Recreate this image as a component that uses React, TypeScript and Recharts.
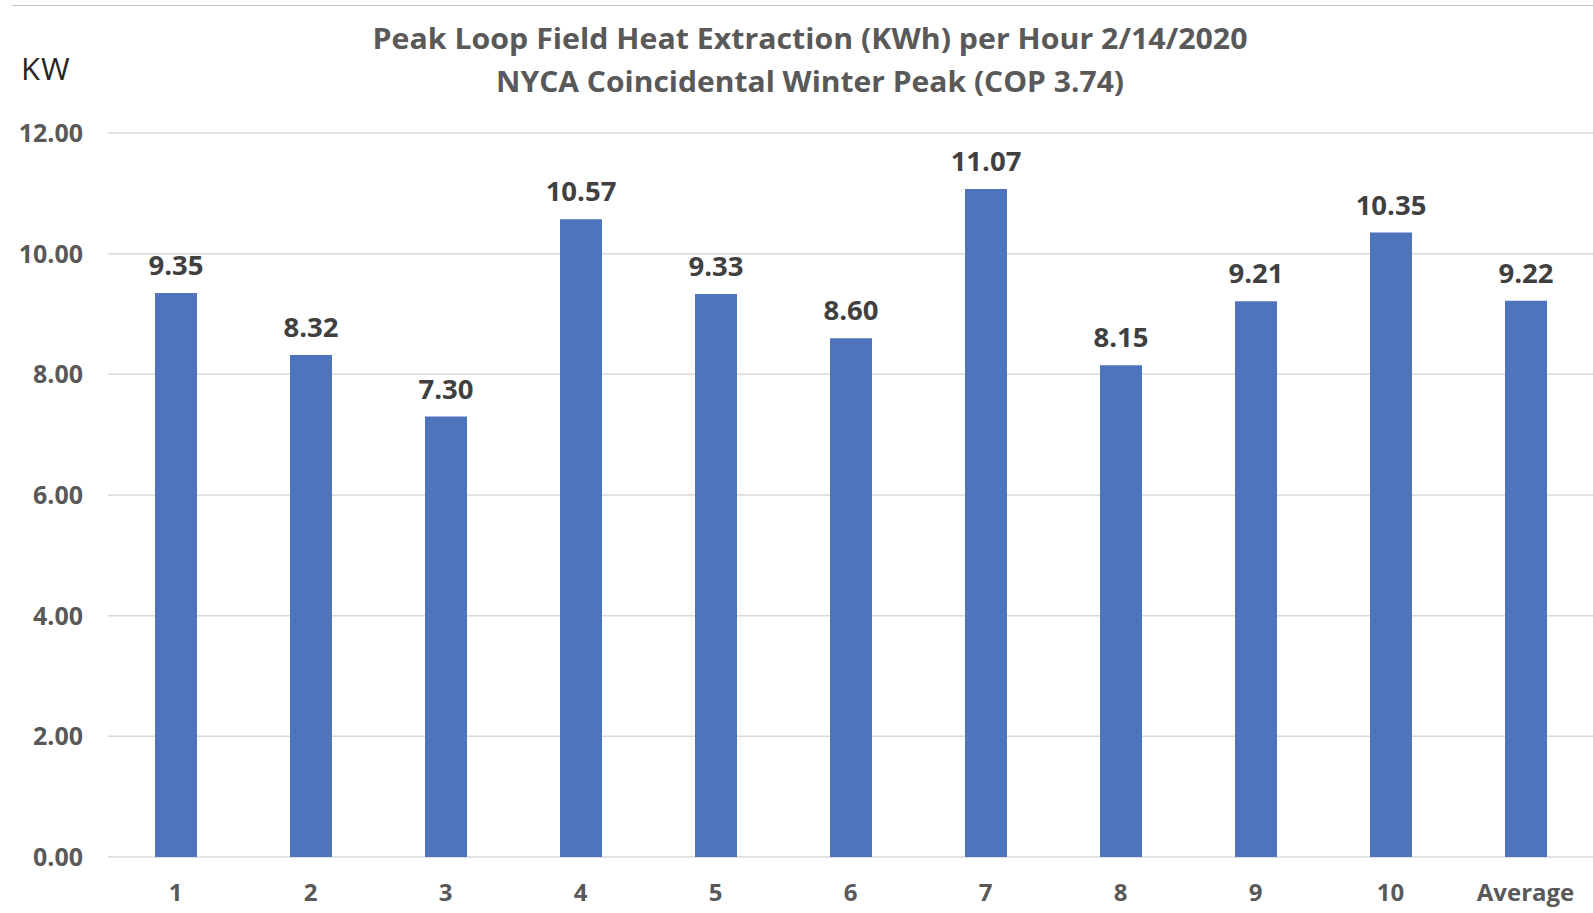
import { BarChart, Bar, XAxis, YAxis, CartesianGrid, LabelList } from 'recharts';

const hours = ['1', '2', '3', '4', '5', '6', '7', '8', '9', '10', 'Average'];
const heatKw = [9.35, 8.32, 7.3, 10.57, 9.33, 8.6, 11.07, 8.15, 9.21, 10.35, 9.22];
const yTicks = [0, 2, 4, 6, 8, 10, 12];
const titleLines = [
  'Peak Loop Field Heat Extraction (KWh) per Hour 2/14/2020',
  'NYCA Coincidental Winter Peak (COP 3.74)',
];

const data = hours.map((h, i) => ({ hour: h, kw: heatKw[i] }));

const FONT = '"Open Sans", "Noto Sans", sans-serif';

export default function App() {
  return (
    <div style={{ position: 'relative', width: 1593, height: 913, fontFamily: FONT, background: '#fff' }}>
      <style>{`body{margin:0}`}</style>
      <div
        style={{
          position: 'absolute',
          left: 12,
          right: 0,
          top: 5,
          borderTop: '1.5px solid #c4c4c4',
        }}
      />
      <div
        style={{
          position: 'absolute',
          left: 21,
          top: 47,
          fontSize: 31,
          letterSpacing: 1,
          color: '#262626',
        }}
      >
        KW
      </div>
      <svg width={1593} height={110} style={{ position: 'absolute', left: 0, top: 0 }}>
        {titleLines.map((t, i) => (
          <text
            key={i}
            x={810}
            y={49 + i * 43}
            textAnchor="middle"
            fontFamily={FONT}
            fontWeight={700}
            fontSize={29}
            fill="#595959"
            textLength={i === 0 ? 875 : 628}
            lengthAdjust="spacingAndGlyphs"
          >
            {t}
          </text>
        ))}
      </svg>
      <BarChart
        width={1593}
        height={913}
        data={data}
        margin={{ top: 133, right: 0, bottom: 0, left: 0 }}
      >
        <CartesianGrid vertical={false} stroke="#d9d9d9" strokeWidth={1.5} />
        <XAxis
          dataKey="hour"
          height={56}
          axisLine={false}
          tickLine={false}
          tickMargin={21}
          tick={{ fill: '#595959', fontSize: 24, fontWeight: 700, fontFamily: FONT }}
          interval={0}
        />
        <YAxis
          width={108}
          domain={[0, 12]}
          ticks={yTicks}
          axisLine={false}
          tickLine={false}
          tickMargin={19}
          tick={{ fill: '#595959', fontSize: 25, fontWeight: 700, fontFamily: FONT }}
          tickFormatter={(v: number) => v.toFixed(2)}
        />
        <Bar dataKey="kw" fill="#4e75bb" barSize={42} isAnimationActive={false}>
          <LabelList
            dataKey="kw"
            position="top"
            offset={18}
            formatter={(v: any) => Number(v).toFixed(2)}
            style={{ fill: '#404040', fontSize: 27.5, fontWeight: 700, fontFamily: FONT }}
          />
        </Bar>
      </BarChart>
    </div>
  );
}
